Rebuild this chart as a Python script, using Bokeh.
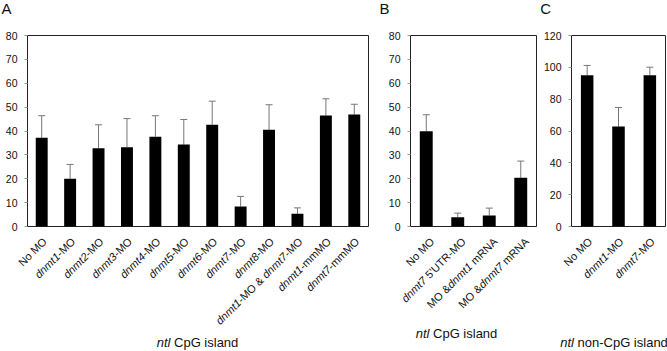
from math import pi
from bokeh.plotting import figure
from bokeh.layouts import row
from bokeh.models import ColumnDataSource, FixedTicker, FactorRange, Range1d
from bokeh.core.properties import value
from bokeh.embed import file_html
from bokeh.resources import INLINE

FONT = "Liberation Sans"

# ---------------- data ----------------
# tick labels as (text, italic) parts
a_labels = [
    [("No MO", False)],
    [("dnmt1", True), ("-MO", False)],
    [("dnmt2", True), ("-MO", False)],
    [("dnmt3", True), ("-MO", False)],
    [("dnmt4", True), ("-MO", False)],
    [("dnmt5", True), ("-MO", False)],
    [("dnmt6", True), ("-MO", False)],
    [("dnmt7", True), ("-MO", False)],
    [("dnmt8", True), ("-MO", False)],
    [("dnmt1", True), ("-MO & ", False), ("dnmt7", True), ("-MO", False)],
    [("dnmt1", True), ("-mmMO", False)],
    [("dnmt7", True), ("-mmMO", False)],
]
a_values = [37.2, 20.0, 32.8, 33.2, 37.6, 34.3, 42.6, 8.4, 40.5, 5.3, 46.5, 46.9]
a_errors = [9.2, 6.0, 9.8, 12.0, 8.8, 10.5, 9.9, 4.2, 10.5, 2.5, 7.0, 4.3]

b_labels = [
    [("No MO", False)],
    [("dnmt7", True), (" 5'UTR-MO", False)],
    [("MO &", False), ("dnmt1", True), (" mRNA", False)],
    [("MO &", False), ("dnmt7", True), (" mRNA", False)],
]
b_values = [39.9, 3.9, 4.6, 20.4]
b_errors = [6.9, 1.7, 3.1, 7.0]

c_labels = [
    [("No MO", False)],
    [("dnmt1", True), ("-MO", False)],
    [("dnmt7", True), ("-MO", False)],
]
c_values = [95.1, 62.8, 95.1]
c_errors = [6.1, 12.0, 5.0]

a_ticks = [0, 10, 20, 30, 40, 50, 60, 70, 80]
b_ticks = [0, 10, 20, 30, 40, 50, 60, 70, 80]
c_ticks = [0, 20, 40, 60, 80, 100, 120]

title_cpg = [("ntl", True), (" CpG island", False)]
title_noncpg = [("ntl", True), (" non-CpG island", False)]

# ---------------- helpers ----------------
AW = {' ': 278, '-': 333, '&': 667, "'": 191, 'A': 667, 'B': 667, 'C': 722,
      'G': 778, 'M': 833, 'N': 722, 'O': 778, 'R': 722, 'T': 611, 'U': 722,
      'a': 556, 'c': 500, 'd': 556, 'i': 222, 'l': 222, 'm': 833, 'n': 556,
      'o': 556, 'p': 556, 'r': 333, 's': 500, 't': 278}


def tw(s, fs):
    return sum(AW.get(ch, 556) for ch in s) * fs / 1000.0


def joined(parts):
    return "".join(t for t, _ in parts)


H = 351
BORDER_TOP = 35
BORDER_BOTTOM = 125
FRAME_BOTTOM = H - BORDER_BOTTOM


def make_panel(width, bl, br, labels, values, errors, ymax, ticks, bar_w):
    cats = [joined(l) for l in labels]
    p = figure(width=width, height=H, x_range=FactorRange(factors=cats),
               y_range=Range1d(0, ymax), x_axis_location=None,
               toolbar_location=None, output_backend="svg",
               min_border_left=bl, min_border_right=br,
               min_border_top=BORDER_TOP, min_border_bottom=BORDER_BOTTOM)
    p.xgrid.visible = False
    p.ygrid.visible = False
    p.outline_line_color = "#222222"
    p.outline_line_width = 1
    p.background_fill_color = "white"
    p.border_fill_color = "white"
    ax = p.yaxis[0]
    ax.ticker = FixedTicker(ticks=ticks)
    ax.major_label_text_font = FONT
    ax.major_label_text_font_size = "10.5px"
    ax.major_label_text_color = "#111111"
    ax.axis_line_color = "#222222"
    ax.major_tick_line_color = "#999999"
    ax.major_tick_in = 0
    ax.major_tick_out = 3
    ax.minor_tick_line_color = None
    ax.major_label_standoff = 7

    src = ColumnDataSource(dict(x=cats, top=values,
                                etop=[v + e for v, e in zip(values, errors)]))
    p.segment(x0="x", y0="top", x1="x", y1="etop", source=src,
              line_color="#777777", line_width=1)
    p.dash(x="x", y="etop", size=7, source=src, line_color="#777777",
           line_width=1)
    p.vbar(x="x", top="top", width=bar_w, source=src, fill_color="black",
           line_color=None)
    return p, cats


def add_xlabels(p, cats, labels, ox, oy, fs=11):
    c = 0.70711
    rows = {False: dict(x=[], y=[], text=[], xo=[], yo=[]),
            True: dict(x=[], y=[], text=[], xo=[], yo=[])}
    for cat, parts in zip(cats, labels):
        after = 0.0
        for text, ital in reversed(parts):
            rs = text.rstrip(' ')
            trail = tw(text[len(rs):], fs)
            shown = rs.lstrip(' ')
            d = after + trail
            r = rows[ital]
            r['x'].append(cat)
            r['y'].append(0)
            r['text'].append(shown)
            r['xo'].append(ox - d * c)
            r['yo'].append(oy + d * c)
            after += tw(text, fs)
    for ital, r in rows.items():
        if r['x']:
            p.text(x="x", y="y", text="text", x_offset="xo", y_offset="yo",
                   source=ColumnDataSource(r), angle=pi / 4,
                   text_align="right", text_baseline="middle",
                   text_font=value(FONT), text_font_size=f"{fs}px",
                   text_font_style="italic" if ital else "normal",
                   text_color="#111111", level="annotation")


def add_text(p, cats, width, bl, br, parts, page_left, page_y, fig_left, fs):
    # anchor: first category at y=0 -> known screen point
    cat_w = (width - bl - br) / len(cats)
    ax_page = fig_left + bl + cat_w / 2
    x = page_left - ax_page
    y = page_y - FRAME_BOTTOM
    for text, ital in parts:
        shown = text.lstrip(' ')
        lead = tw(text[:len(text) - len(shown)], fs)
        p.text(x=[cats[0]], y=[0], text=[shown], x_offset=x + lead, y_offset=y,
               text_align="left", text_baseline="middle",
               text_font=value(FONT), text_font_size=f"{fs}px",
               text_font_style="italic" if ital else "normal",
               text_color="#111111", level="annotation")
        x += tw(text, fs)


# ---------------- panels ----------------
A_LEFT, A_W, A_BL, A_BR = 0, 372, 27, 4
B_LEFT, B_W, B_BL, B_BR = 372, 168, 38, 4
C_LEFT, C_W, C_BL, C_BR = 540, 127, 29, 2

pA, catsA = make_panel(A_W, A_BL, A_BR, a_labels, a_values, a_errors, 80, a_ticks, 0.42)
pB, catsB = make_panel(B_W, B_BL, B_BR, b_labels, b_values, b_errors, 80, b_ticks, 0.41)
pC, catsC = make_panel(C_W, C_BL, C_BR, c_labels, c_values, c_errors, 120, c_ticks, 0.40)

add_xlabels(pA, catsA, a_labels, 3, 13)
add_xlabels(pB, catsB, b_labels, 6, 13)
add_xlabels(pC, catsC, c_labels, 3, 13)

TFS = 13
wt = tw(joined(title_cpg), TFS)
add_text(pA, catsA, A_W, A_BL, A_BR, title_cpg, 197 - wt / 2, 342, A_LEFT, TFS)
add_text(pB, catsB, B_W, B_BL, B_BR, title_cpg, 456 - wt / 2, 333, B_LEFT, TFS)
add_text(pC, catsC, C_W, C_BL, C_BR, title_noncpg, 558, 342, C_LEFT, TFS)

add_text(pA, catsA, A_W, A_BL, A_BR, [("A", False)], 1, 8, A_LEFT, 15)
add_text(pB, catsB, B_W, B_BL, B_BR, [("B", False)], 379, 8, B_LEFT, 15)
add_text(pC, catsC, C_W, C_BL, C_BR, [("C", False)], 538, 8, C_LEFT, 15)

layout = row(pA, pB, pC)
open("out.html", "w").write(file_html(layout, INLINE))
